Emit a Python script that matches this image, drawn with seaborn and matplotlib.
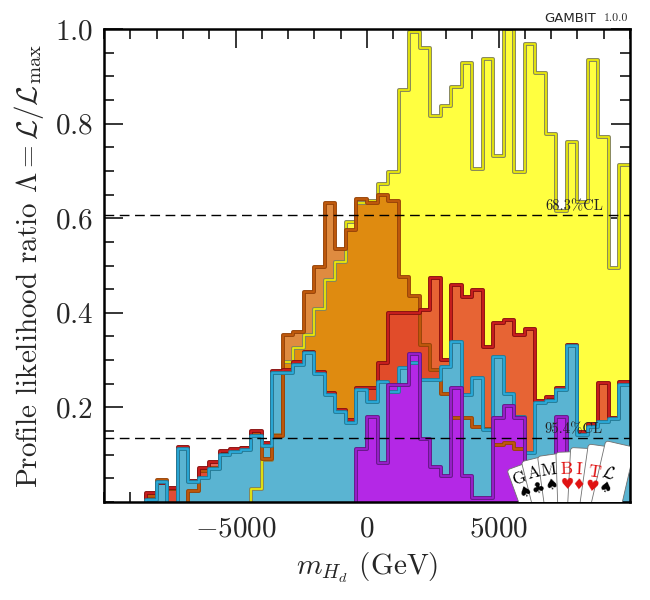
import numpy as np
import pandas as pd
import matplotlib
matplotlib.use("Agg")
import matplotlib.pyplot as plt
import matplotlib.patheffects as pe
from matplotlib.patches import FancyBboxPatch
from matplotlib.transforms import Affine2D
from matplotlib.ticker import MultipleLocator
import seaborn as sns

# ---------------- data ----------------
bin_edges = np.arange(-10000, 10001, 400)

yellow = [0] * 14 + [0.027, 0.089, 0.142, 0.297, 0.325, 0.353, 0.409, 0.469, 0.508, 0.593,
                     0.632, 0.637, 0.672, 0.698, 0.871, 0.993, 0.959, 0.817, 0.837, 0.878,
                     0.929, 0.705, 0.936, 0.731, 1.0, 0.698, 0.968, 0.906, 0.779, 0.615,
                     0.762, 0.635, 0.934, 0.772, 0.494, 0.712]

orange = [0, 0, 0, 0, 0.012, 0.047, 0.028, 0.0, 0.024, 0.065, 0.071, 0.104, 0.108, 0.115,
          0.144, 0.09, 0.14, 0.353, 0.360, 0.445, 0.496, 0.633, 0.534, 0.575, 0.64, 0.632,
          0.649, 0.636, 0.476, 0.436, 0.332, 0.279, 0.228, 0.177, 0.177, 0.159, 0.154,
          0.12, 0.125, 0.113, 0, 0, 0, 0, 0, 0, 0, 0, 0, 0]

red = [0, 0, 0, 0, 0.018, 0.04, 0.03, 0.117, 0.044, 0.072, 0.084, 0.108, 0.112, 0.115,
       0.151, 0.124, 0.277, 0.279, 0.295, 0.318, 0.274, 0.230, 0.195, 0.173, 0.240, 0.240,
       0.293, 0.399, 0.40, 0.399, 0.406, 0.473, 0.300, 0.459, 0.434, 0.448, 0.328, 0.378,
       0.385, 0.353, 0.366, 0.214, 0.221, 0.240, 0.332, 0.147, 0.164, 0.251, 0.177, 0.253]

cyan = [0, 0, 0, 0, 0.005, 0.042, 0.0, 0.113, 0.042, 0.05, 0.069, 0.10, 0.105, 0.11,
        0.14, 0.118, 0.272, 0.272, 0.29, 0.314, 0.27, 0.226, 0.19, 0.168, 0.236, 0.212,
        0.254, 0.233, 0.283, 0.293, 0.258, 0.258, 0.286, 0.339, 0.226, 0.262, 0.152, 0.307,
        0.228, 0.18, 0.103, 0.209, 0.214, 0.237, 0.33, 0.142, 0.159, 0.170, 0.175, 0.247]

purple = [0] * 24 + [0.113, 0.18, 0.083, 0.247, 0.247, 0.312, 0.133, 0.075, 0.055, 0.242,
                     0.055, 0.008, 0.008, 0.177, 0.202, 0.177, 0.08, 0.0, 0.0, 0.18,
                     0, 0, 0, 0, 0, 0]

x_ticks = [-5000, 0, 5000]
x_ticklabels = [r"$-5000$", r"$0$", r"$5000$"]
y_ticks = [0.2, 0.4, 0.6, 0.8, 1.0]
y_ticklabels = [r"$0.2$", r"$0.4$", r"$0.6$", r"$0.8$", r"$1.0$"]
cl_levels = [np.exp(-0.5), np.exp(-2.0)]
cl_labels = ["68.3%CL", "95.4%CL"]

card_letters = ["G", "A", "M", "B", "I", "T", r"$\mathcal{L}$"]
card_suits = ["\u2660", "\u2663", "\u2660", "\u2665", "\u2666", "\u2665", "\u2660"]
card_red = [False, False, False, True, True, True, False]

# ---------------- style ----------------
sns.set_style("ticks")
plt.rcParams["font.family"] = ["cmr10", "DejaVu Sans"]
plt.rcParams["mathtext.fontset"] = "cm"
plt.rcParams["axes.formatter.use_mathtext"] = True
plt.rcParams["axes.unicode_minus"] = True

fig = plt.figure(figsize=(6.5, 6), dpi=100)
ax = fig.add_axes([104 / 650, 98 / 600, 526 / 650, 473 / 600])

centers = (bin_edges[:-1] + bin_edges[1:]) / 2
bins_list = [float(b) for b in bin_edges]

series = [
    # values, fill colour, alpha, dark outline, light outline
    (yellow, "#ffff40", 1.0, "#85855a", "#f0f000"),
    (orange, "#d56500", 0.75, "#984408", "#c45c0c"),
    (red, "#e23d31", 0.8, "#8a1010", "#d02020"),
    (cyan, "#5ab4d2", 1.0, "#257c98", "#2aaee0"),
    (purple, "#b428e6", 1.0, "#661888", "#a020d4"),
]

frames = [pd.DataFrame({"m": centers, "w": np.asarray(v, dtype=float)}) for v, *_ in series]

for df, (vals, fc, a, _, _) in zip(frames, series):
    sns.histplot(data=df, x="m", weights="w", bins=bins_list, element="step", fill=True,
                 color=fc, alpha=a, linewidth=0, ax=ax)

n_before = len(ax.lines)
for df, (vals, _, _, dark, light) in zip(frames, series):
    sns.histplot(data=df, x="m", weights="w", bins=bins_list, element="step", fill=False,
                 color=light, linewidth=1.2,
                 path_effects=[pe.Stroke(linewidth=2.8, foreground=dark), pe.Normal()],
                 ax=ax)
# push the zero baseline of the outlines just below the axis so it is clipped away
for ln in ax.lines[n_before:]:
    yd = np.asarray(ln.get_ydata(), dtype=float).copy()
    yd[yd <= 0] = -0.02
    ln.set_ydata(yd)

for lvl, lab in zip(cl_levels, cl_labels):
    ax.axhline(lvl, color="black", lw=1.0, ls=(0, (7, 4)), zorder=6)
    ax.text(8970, lvl + 0.003, lab, ha="right", va="bottom", fontsize=10.5,
            color="#222222", zorder=7)

ax.set_xlim(-10000, 10000)
ax.set_ylim(0, 1)
ax.set_xticks(x_ticks)
ax.set_xticklabels(x_ticklabels)
ax.set_yticks(y_ticks)
ax.set_yticklabels(y_ticklabels)
ax.xaxis.set_minor_locator(MultipleLocator(1000))
ax.yaxis.set_minor_locator(MultipleLocator(0.05))
ax.tick_params(which="both", direction="in", top=True, right=True, width=1.1,
               color="black", labelsize=21)
ax.tick_params(which="major", length=14)
ax.tick_params(axis="x", which="major", pad=10)
ax.tick_params(axis="y", which="major", pad=8)
ax.tick_params(which="minor", length=7)
for s in ax.spines.values():
    s.set_linewidth(1.8)
    s.set_color("black")
    s.set_zorder(20)

ax.set_xlabel(r"$m_{H_d}$ (GeV)", fontsize=21, labelpad=6)
ax.set_ylabel(r"Profile likelihood ratio $\Lambda = \mathcal{L}/\mathcal{L}_\mathrm{max}$",
              fontsize=21, labelpad=6)

# GAMBIT version tag
fig.text(628 / 650, 1 - 18 / 600, "1.0.0", ha="right", va="center", fontsize=8.5,
         family="cmr10")
fig.text(596 / 650, 1 - 18 / 600, "GAMBIT", ha="right", va="center", fontsize=9.5,
         family="DejaVu Sans")

# ---------------- card logo ----------------
lax = fig.add_axes([500 / 650, 98 / 600, 130 / 650, 82 / 600])
lax.set_xlim(0, 130)
lax.set_ylim(0, 82)
lax.axis("off")
letter_pos = [(20, 24), (34, 29), (49, 32), (66, 33), (79, 32), (94, 30), (108, 29)]
angles = [20, 14, 8, 2, -3, -8, -13]
tops = [12, 14, 15, 17, 22, 27, 31]
cw, ch = 30, 90
for (lx, ly), th, d, let, su, isred in zip(letter_pos, angles, tops, card_letters,
                                           card_suits, card_red):
    t = np.deg2rad(th)
    R = np.array([[np.cos(t), -np.sin(t)], [np.sin(t), np.cos(t)]])
    off = R @ np.array([9.5, -d])
    tlx, tly = lx - off[0], ly - off[1]
    tr = Affine2D().rotate_deg(th).translate(tlx, tly) + lax.transData
    card = FancyBboxPatch((0, -ch), cw, ch, boxstyle="round,pad=0,rounding_size=3",
                          facecolor="white", edgecolor="#707070", linewidth=0.6,
                          transform=tr, clip_on=True, zorder=10)
    lax.add_patch(card)
    col = "#e01010" if isred else "black"
    lax.text(lx, ly, let, rotation=th, ha="center", va="center", fontsize=12.5,
             color=col, zorder=11, family="cmr10", rotation_mode="anchor")
    sp = R @ np.array([10, -d - 15])
    lax.text(tlx + sp[0], tly + sp[1], su, rotation=th, ha="center", va="center",
             fontsize=11, color=col, zorder=11, family="DejaVu Sans",
             rotation_mode="anchor")

fig.savefig("out.png", dpi=100)
